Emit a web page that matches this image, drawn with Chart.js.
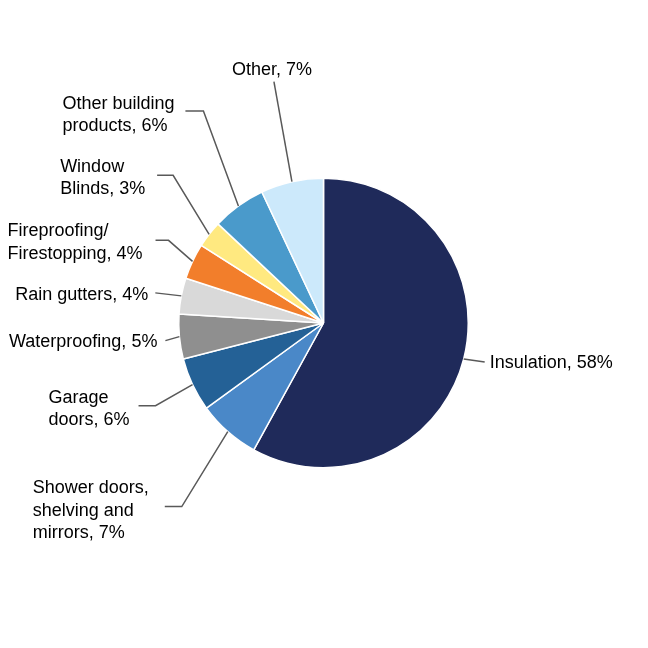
<!DOCTYPE html>
<html>
<head>
<meta charset="utf-8">
<script src="https://cdn.jsdelivr.net/npm/chart.js@4/dist/chart.umd.min.js"></script>
<style>
  html, body { margin:0; padding:0; background:#fff; }
  #wrap { width:648px; height:648px; }
</style>
</head>
<body>
<div id="wrap"><canvas id="chart" width="648" height="648"></canvas></div>
<script>
// data, clockwise from 12 o'clock
const categories = ['Insulation', 'Shower doors, shelving and mirrors', 'Garage doors', 'Waterproofing',
  'Rain gutters', 'Fireproofing/ Firestopping', 'Window Blinds', 'Other building products', 'Other'];
const shares = [58, 7, 6, 5, 4, 4, 3, 6, 7];
// how each label wraps on the page
const labelLines = [
  ['Insulation, 58%'],
  ['Shower doors,', 'shelving and', 'mirrors, 7%'],
  ['Garage', 'doors, 6%'],
  ['Waterproofing, 5%'],
  ['Rain gutters, 4%'],
  ['Fireproofing/', 'Firestopping, 4%'],
  ['Window', 'Blinds, 3%'],
  ['Other building', 'products, 6%'],
  ['Other, 7%']
];
const colors = ['#1F2A5A', '#4A88C8', '#246196', '#8F8F8F', '#D9D9D9', '#F27E2B', '#FFE980', '#4A9ACB', '#CCE9FB'];

// leader line layout: elbow offset from slice edge, horizontal run, text offset from line end
const leaders = [
  { elbow: null,      run: [21, 3],   align: 'left',   tx: 5,    ty: 1 },
  { elbow: [-46, 75], run: [-17, 0],  align: 'left',   tx: -132, ty: 4 },
  { elbow: [-37, 21], run: [-17, 0],  align: 'left',   tx: -90,  ty: 3.5 },
  { elbow: null,      run: [-14, 4],  align: 'right',  tx: -8,   ty: 1 },
  { elbow: null,      run: [-26, -3], align: 'right',  tx: -7,   ty: 2 },
  { elbow: [-24, -21], run: [-13, 0], align: 'left',   tx: -148, ty: 2 },
  { elbow: [-36, -59], run: [-16, 0], align: 'left',   tx: -97,  ty: 2.5 },
  { elbow: [-35, -95], run: [-18, 0], align: 'left',   tx: -123, ty: 4 },
  { elbow: null,      run: [-18, -100], align: 'center', tx: -2, ty: -12 }
];

const leaderLabels = {
  id: 'leaderLabels',
  afterDatasetsDraw(chart) {
    const c = chart.ctx;
    const arcs = chart.getDatasetMeta(0).data;
    c.save();
    c.font = '18px "Liberation Sans", Arial, sans-serif';
    c.textBaseline = 'middle';
    arcs.forEach((arc, i) => {
      const p = arc.getProps(['x', 'y', 'startAngle', 'endAngle', 'outerRadius'], true);
      const mid = (p.startAngle + p.endAngle) / 2;
      const ax = p.x + Math.cos(mid) * p.outerRadius;
      const ay = p.y + Math.sin(mid) * p.outerRadius;
      const L = leaders[i];
      let ex = ax, ey = ay;
      c.strokeStyle = '#595959';
      c.lineWidth = 1.5;
      c.beginPath();
      c.moveTo(ax, ay);
      if (L.elbow) { ex += L.elbow[0]; ey += L.elbow[1]; c.lineTo(ex, ey); }
      ex += L.run[0]; ey += L.run[1];
      c.lineTo(ex, ey);
      c.stroke();
      const lines = labelLines[i];
      const lh = 22.5;
      const top = ey + L.ty - (lines.length - 1) * lh / 2;
      c.fillStyle = '#000';
      c.textAlign = L.align;
      lines.forEach((t, k) => c.fillText(t, ex + L.tx, top + k * lh));
    });
    c.restore();
  }
};

new Chart(document.getElementById('chart').getContext('2d'), {
  type: 'pie',
  data: {
    labels: categories,
    datasets: [{ data: shares, backgroundColor: colors, borderColor: '#fff', borderWidth: 1.5 }]
  },
  options: {
    responsive: false,
    animation: false,
    layout: { padding: { left: 178, right: 179, top: 177, bottom: 179 } },
    plugins: { legend: { display: false }, tooltip: { enabled: false } }
  },
  plugins: [leaderLabels]
});
</script>
</body>
</html>
